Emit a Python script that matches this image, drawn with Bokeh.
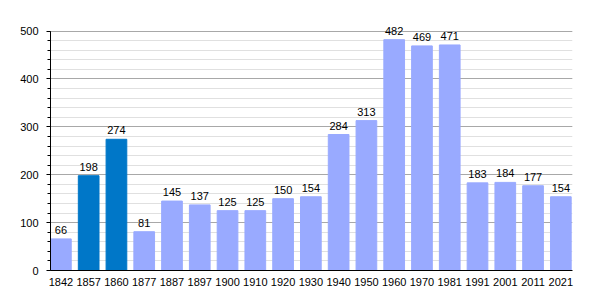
from bokeh.plotting import figure
from bokeh.models import ColumnDataSource, LabelSet, Range1d, FixedTicker
from bokeh.core.properties import value
from bokeh.embed import file_html
from bokeh.resources import INLINE

years = ["1842", "1857", "1860", "1877", "1887", "1897", "1900", "1910", "1920", "1930",
         "1940", "1950", "1960", "1970", "1981", "1991", "2001", "2011", "2021"]
population = [66, 198, 274, 81, 145, 137, 125, 125, 150, 154,
              284, 313, 482, 469, 471, 183, 184, 177, 154]
highlight = ["1857", "1860"]
y_ticks = [0, 100, 200, 300, 400, 500]
y_minor = [i * 20 for i in range(26)]

xpos = [i + 0.5 for i in range(len(years))]
colors = ["#0077c8" if y in highlight else "#99aaff" for y in years]
labels = [str(v) for v in population]

src = ColumnDataSource(dict(x=xpos, top=population, color=colors, label=labels))

p = figure(width=600, height=300, output_backend="svg",
           toolbar_location=None, min_border_left=50, min_border_right=28,
           min_border_top=21, min_border_bottom=30)
p.y_range = Range1d(0, 520)
p.x_range = Range1d(0.126, 18.92)
p.vbar(x="x", top="top", width=0.745, color="color", source=src)

p.add_layout(LabelSet(x="x", y="top", text="label", source=src, text_align="center",
                      text_baseline="alphabetic", y_offset=5, text_font_size="11px",
                      text_font=value("Liberation Sans"), text_color="#000000"))

p.outline_line_color = None
p.xgrid.grid_line_color = None
p.ygrid.ticker = FixedTicker(ticks=y_ticks, minor_ticks=y_minor)
p.ygrid.grid_line_color = "#a8a8a8"
p.ygrid.minor_grid_line_color = "#e0e0e0"
p.yaxis.ticker = FixedTicker(ticks=y_ticks, minor_ticks=y_minor)
p.yaxis.bounds = (0, 500)
p.yaxis.axis_line_color = "black"
p.yaxis.major_tick_line_color = "black"
p.yaxis.minor_tick_line_color = "black"
p.yaxis.major_tick_out = 4
p.yaxis.major_tick_in = 0
p.yaxis.minor_tick_out = 3
p.yaxis.minor_tick_in = 0
p.yaxis.major_label_text_font = "Liberation Sans"
p.yaxis.major_label_text_font_size = "11px"
p.yaxis.major_label_text_color = "#000000"
p.yaxis.major_label_standoff = 8
p.xaxis.ticker = FixedTicker(ticks=xpos)
p.xaxis.major_label_overrides = {x: y for x, y in zip(xpos, years)}
p.xaxis.axis_line_color = "black"
p.xaxis.major_tick_line_color = None
p.xaxis.minor_tick_line_color = None
p.xaxis.major_label_text_font = "Liberation Sans"
p.xaxis.major_label_text_font_size = "11px"
p.xaxis.major_label_text_color = "#000000"
p.xaxis.major_label_standoff = 1

open("out.html", "w").write(file_html(p, INLINE))
